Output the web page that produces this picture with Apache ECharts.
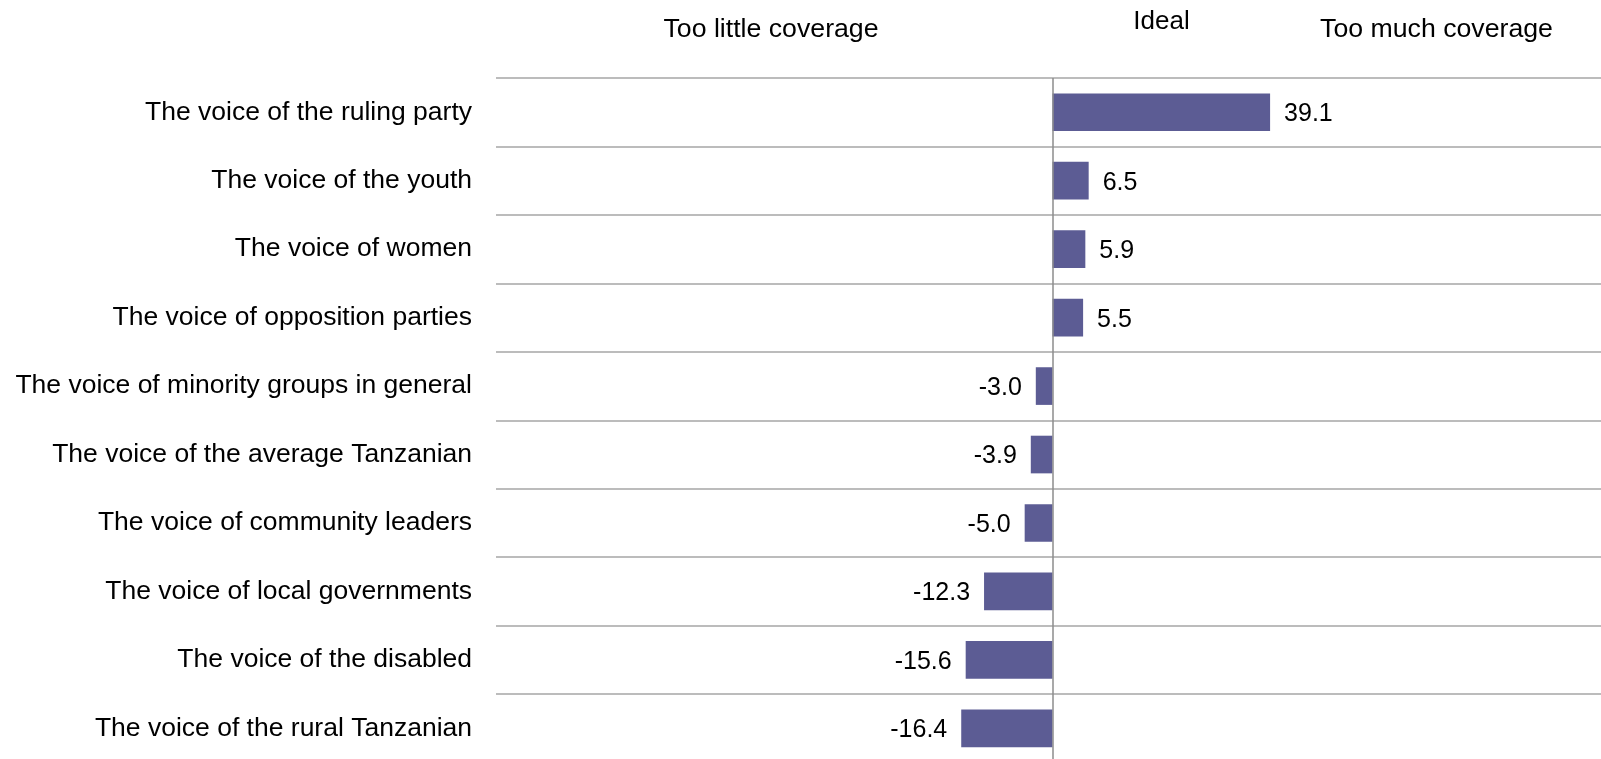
<!DOCTYPE html>
<html>
<head>
<meta charset="utf-8">
<title>Media coverage of voices</title>
<script src="https://cdn.jsdelivr.net/npm/echarts@6/dist/echarts.min.js"></script>
<style>
  html, body { margin: 0; padding: 0; background: #ffffff; }
  #chart { width: 1601px; height: 759px; }
</style>
</head>
<body>
<div id="chart"></div>
<script>
// Voices, listed top to bottom
const categories = [
  'The voice of the ruling party',
  'The voice of the youth',
  'The voice of women',
  'The voice of opposition parties',
  'The voice of minority groups in general',
  'The voice of the average Tanzanian',
  'The voice of community leaders',
  'The voice of local governments',
  'The voice of the disabled',
  'The voice of the rural Tanzanian'
];

// Net coverage score: negative = too little, positive = too much
const netCoverage = [39.1, 6.5, 5.9, 5.5, -3.0, -3.9, -5.0, -12.3, -15.6, -16.4];

// Column headings over the scale
const headings = ['Too little coverage', 'Ideal', 'Too much coverage'];

const FONT = '"Liberation Sans", Arial, Helvetica, sans-serif';
const BAR_COLOR = '#5c5c94';
const GRID_COLOR = '#a6a6a6';

const chart = echarts.init(document.getElementById('chart'), null, { renderer: 'canvas' });

const barData = netCoverage.map(v => ({
  value: v,
  label: { position: v >= 0 ? 'right' : 'left' }
}));

const headingStyle = (text, size) => ({
  text: text,
  fill: '#000000',
  fontSize: size,
  fontFamily: FONT,
  align: 'center',
  verticalAlign: 'middle'
});

chart.setOption({
  animation: false,
  backgroundColor: '#ffffff',
  // the plot runs a little past the right and bottom edges of the canvas
  grid: {
    left: 496, top: 78, width: 1113, height: 684.6,
    containLabel: false,
    outerBoundsMode: 'none'
  },
  xAxis: {
    type: 'value',
    min: -100,
    max: 100,
    axisLine: { show: false },
    axisTick: { show: false },
    axisLabel: { show: false },
    splitLine: { show: false }
  },
  yAxis: {
    type: 'category',
    data: categories,
    inverse: true,
    axisLine: { show: false },
    axisTick: { show: false },
    axisLabel: {
      color: '#000000',
      fontSize: 26.5,
      fontFamily: FONT,
      margin: 24,
      padding: [3, 0, 0, 0]
    },
    splitLine: { show: true, lineStyle: { color: GRID_COLOR, width: 1.5 } }
  },
  series: [{
    type: 'bar',
    data: barData,
    barWidth: '55%',
    itemStyle: { color: BAR_COLOR },
    label: {
      show: true,
      distance: 14,
      offset: [0, 2],
      color: '#000000',
      fontSize: 25,
      fontFamily: FONT,
      formatter: p => p.value.toFixed(1)
    },
    // vertical reference line at zero ("Ideal")
    markLine: {
      silent: true,
      symbol: 'none',
      label: { show: false },
      lineStyle: { color: '#8c8c8c', width: 1.5, type: 'solid' },
      data: [{ xAxis: 0 }]
    }
  }],
  graphic: [
    { type: 'text', x: 771, y: 29.5, style: headingStyle(headings[0], 26.7) },
    { type: 'text', x: 1161.5, y: 21.5, style: headingStyle(headings[1], 26) },
    { type: 'text', x: 1436.5, y: 30, style: headingStyle(headings[2], 26.7) }
  ]
});
</script>
</body>
</html>
